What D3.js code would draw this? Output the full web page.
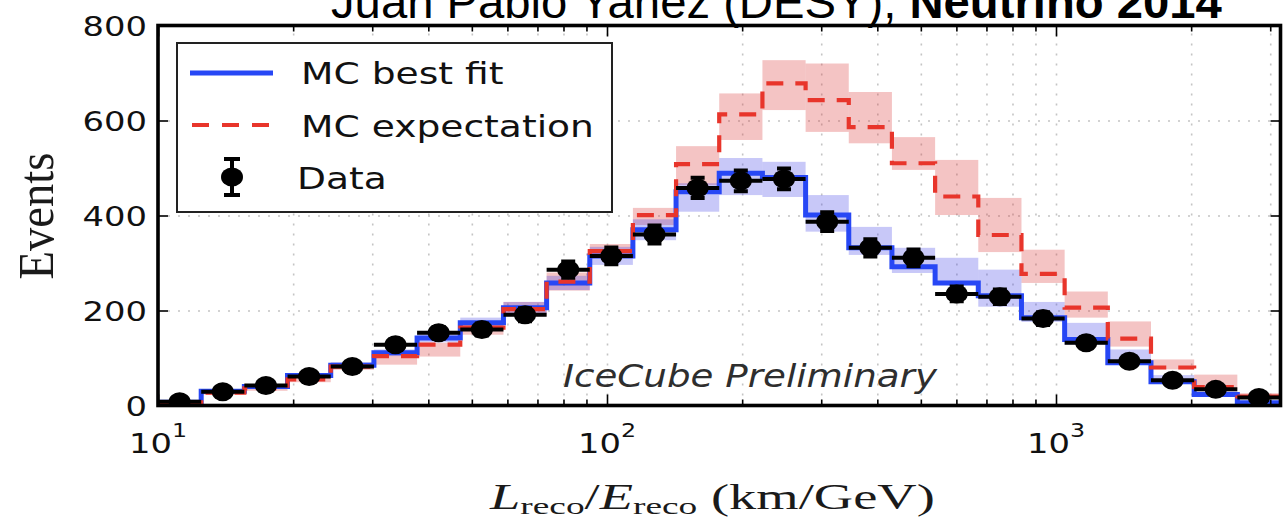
<!DOCTYPE html>
<html>
<head>
<meta charset="utf-8">
<script src="https://cdn.jsdelivr.net/npm/d3@7"></script>
<style>
  body { margin: 0; background: #fff; }
  svg { display: block; }
</style>
</head>
<body>
<svg id="chart" width="1283" height="522"></svg>
<script>
// ---- Histogram data: 26 log-spaced bins in L/E (km/GeV) ----
const binEdges = [10, 12.48, 15.57, 19.43, 24.25, 30.26, 37.76, 47.12, 58.80, 73.37,
  91.55, 114.2, 142.5, 177.8, 221.9, 276.9, 345.5, 431.1, 538.0, 671.3,
  837.7, 1045.3, 1304.3, 1627.6, 2031.0, 2534.4, 3162.3];

const dataCounts = [8, 29, 42, 61, 82, 128, 153, 160, 191, 286,
  315, 360, 458, 473, 477, 387, 332, 311, 235, 229,
  183, 132, 93, 53, 34, 17];

const bestFit = [7, 30, 40, 63, 85, 111, 142, 174, 206, 258,
  315, 370, 450, 489, 480, 401, 332, 292, 258, 231,
  185, 139, 90, 50, 23, 6];
const bestFitLo = [5, 27, 37, 58, 79, 104, 133, 163, 194, 243,
  296, 348, 408, 443, 439, 366, 317, 279, 254, 208,
  176, 128, 86, 46, 20, 4];
const bestFitHi = [9, 33, 44, 68, 91, 118, 151, 185, 218, 273,
  334, 392, 468, 521, 513, 443, 376, 332, 311, 286,
  218, 174, 118, 64, 30, 9];

const expectation = [5, 27, 36, 55, 82, 104, 128, 164, 203, 261,
  325, 401, 508, 613, 678, 643, 586, 510, 440, 359,
  277, 206, 141, 80, 39, 19];
const expectationLo = [3, 23, 31, 49, 75, 86, 103, 149, 188, 242,
  310, 380, 464, 559, 622, 576, 552, 496, 401, 323,
  258, 185, 124, 76, 34, 14];
const expectationHi = [8, 31, 41, 61, 90, 111, 132, 176, 218, 280,
  340, 416, 546, 657, 727, 720, 660, 565, 517, 437,
  328, 240, 177, 97, 65, 26];

// ---- Axis ticks and labels ----
const yTicks = [0, 200, 400, 600, 800];
const yGridTicks = [200, 400, 600];
const xMajorTicks = [10, 100, 1000];
const xTickExponents = ["1", "2", "3"];
const xMinorTicks = [20, 30, 40, 50, 60, 70, 80, 90, 200, 300, 400, 500, 600, 700, 800, 900, 2000, 3000];

const legendLabels = ["MC best fit", "MC expectation", "Data"];
const titleRegular = "Juan Pablo Yañez (DESY), ";
const titleBold = "Neutrino 2014";
const watermark = "IceCube Preliminary";
const yAxisTitle = "Events";

// ---- Colours ----
const blueLine = "#2747f5";
const redLine = "#e8352b";
const blueBand = "#4848e8";
const redBand = "#da3a3a";

const svg = d3.select("#chart");
svg.append("rect").attr("width", 1283).attr("height", 522).attr("fill", "#fff");

const plot = { left: 158, right: 1280.5, top: 25.5, bottom: 405.5 };
const x = d3.scaleLog().domain([binEdges[0], binEdges[binEdges.length - 1]]).range([plot.left, plot.right]);
const y = d3.scaleLinear().domain([0, 800]).range([plot.bottom, plot.top]);
const plotH = plot.bottom - plot.top;
const plotW = plot.right - plot.left;

svg.append("defs").append("clipPath").attr("id", "plotclip")
  .append("rect").attr("x", plot.left).attr("y", plot.top).attr("width", plotW).attr("height", plotH);

// ---- Dotted grid ----
const grid = svg.append("g");
const gx = grid.append("g").attr("transform", `translate(0,${plot.bottom})`)
  .call(d3.axisBottom(x).tickValues(xMajorTicks.concat(xMinorTicks)).tickSize(-plotH).tickFormat(""));
const gy = grid.append("g").attr("transform", `translate(${plot.left},0)`)
  .call(d3.axisLeft(y).tickValues(yGridTicks).tickSize(-plotW).tickFormat(""));
[gx, gy].forEach(g => {
  g.select(".domain").remove();
  g.selectAll("line").attr("stroke", "#c4c4c4").attr("stroke-width", 1.6).attr("stroke-dasharray", "2,8");
});

const content = svg.append("g").attr("clip-path", "url(#plotclip)");
const bins = d3.range(dataCounts.length);

// ---- Systematic bands ----
content.append("g").selectAll("rect").data(bins).join("rect")
  .attr("x", i => x(binEdges[i])).attr("width", i => x(binEdges[i + 1]) - x(binEdges[i]))
  .attr("y", i => y(expectationHi[i])).attr("height", i => y(expectationLo[i]) - y(expectationHi[i]))
  .attr("fill", redBand).attr("fill-opacity", 0.3);
content.append("g").selectAll("rect").data(bins).join("rect")
  .attr("x", i => x(binEdges[i])).attr("width", i => x(binEdges[i + 1]) - x(binEdges[i]))
  .attr("y", i => y(bestFitHi[i])).attr("height", i => y(bestFitLo[i]) - y(bestFitHi[i]))
  .attr("fill", blueBand).attr("fill-opacity", 0.3);

// ---- Step histograms ----
function stepPoints(values) {
  const pts = values.map((v, i) => [binEdges[i], v]);
  pts.push([binEdges[values.length], values[values.length - 1]]);
  return pts;
}
const stepLine = d3.line().x(d => x(d[0])).y(d => y(d[1])).curve(d3.curveStepAfter);

content.append("path").attr("d", stepLine(stepPoints(bestFit)))
  .attr("fill", "none").attr("stroke", blueLine).attr("stroke-width", 5);
content.append("path").attr("d", stepLine(stepPoints(expectation)))
  .attr("fill", "none").attr("stroke", redLine).attr("stroke-width", 4.2)
  .attr("stroke-dasharray", "17,12");

// ---- Data points with error bars ----
const pts = content.append("g");
const centre = i => Math.sqrt(binEdges[i] * binEdges[i + 1]);
pts.selectAll("line.xerr").data(bins).join("line").attr("class", "xerr")
  .attr("x1", i => x(binEdges[i])).attr("x2", i => x(binEdges[i + 1]))
  .attr("y1", i => y(dataCounts[i])).attr("y2", i => y(dataCounts[i]))
  .attr("stroke", "#000").attr("stroke-width", 4);
pts.selectAll("line.yerr").data(bins).join("line").attr("class", "yerr")
  .attr("x1", i => x(centre(i))).attr("x2", i => x(centre(i)))
  .attr("y1", i => y(dataCounts[i] + Math.sqrt(dataCounts[i])))
  .attr("y2", i => y(dataCounts[i] - Math.sqrt(dataCounts[i])))
  .attr("stroke", "#000").attr("stroke-width", 4);
[1, -1].forEach(s => {
  pts.append("g").selectAll("line").data(bins).join("line")
    .attr("x1", i => x(centre(i)) - 7).attr("x2", i => x(centre(i)) + 7)
    .attr("y1", i => y(dataCounts[i] + s * Math.sqrt(dataCounts[i])))
    .attr("y2", i => y(dataCounts[i] + s * Math.sqrt(dataCounts[i])))
    .attr("stroke", "#000").attr("stroke-width", 4);
});
pts.selectAll("ellipse").data(bins).join("ellipse")
  .attr("cx", i => x(centre(i))).attr("cy", i => y(dataCounts[i]))
  .attr("rx", 11).attr("ry", 9.5).attr("fill", "#000");

// ---- Frame and ticks ----
const axes = svg.append("g");
function styleTicks(g) {
  g.select(".domain").remove();
  g.selectAll("line").attr("stroke", "#000").attr("stroke-width", 1.6);
}
axes.append("g").attr("transform", `translate(0,${plot.bottom})`)
  .call(d3.axisBottom(x).tickValues(xMajorTicks).tickSize(-11).tickFormat("")).call(styleTicks);
axes.append("g").attr("transform", `translate(0,${plot.bottom})`)
  .call(d3.axisBottom(x).tickValues(xMinorTicks).tickSize(-6).tickFormat("")).call(styleTicks);
axes.append("g").attr("transform", `translate(0,${plot.top})`)
  .call(d3.axisTop(x).tickValues(xMajorTicks).tickSize(-11).tickFormat("")).call(styleTicks);
axes.append("g").attr("transform", `translate(0,${plot.top})`)
  .call(d3.axisTop(x).tickValues(xMinorTicks).tickSize(-6).tickFormat("")).call(styleTicks);
axes.append("g").attr("transform", `translate(${plot.left},0)`)
  .call(d3.axisLeft(y).tickValues(yTicks).tickSize(-10).tickFormat("")).call(styleTicks);
axes.append("g").attr("transform", `translate(${plot.right},0)`)
  .call(d3.axisRight(y).tickValues(yTicks).tickSize(-10).tickFormat("")).call(styleTicks);

axes.append("rect").attr("x", plot.left).attr("y", plot.top).attr("width", plotW).attr("height", plotH)
  .attr("fill", "none").attr("stroke", "#000").attr("stroke-width", 3.6);

// ---- Text helper: horizontally stretched text, optionally fitted to a width ----
function addText(parent, opt) {
  const g = parent.append("g");
  const t = g.append("text")
    .attr("text-anchor", opt.anchor || "start")
    .attr("font-family", opt.family || "DejaVu Sans")
    .attr("font-size", opt.size)
    .attr("fill", opt.fill || "#111");
  if (opt.style) t.attr("font-style", opt.style);
  let shift = 0;
  opt.parts.forEach(p => {
    const ts = t.append("tspan").text(p.text);
    if (p.size) ts.attr("font-size", p.size);
    if (p.style) ts.attr("font-style", p.style);
    if (p.weight) ts.attr("font-weight", p.weight);
    const target = p.shift || 0;
    if (target !== shift) { ts.attr("dy", target - shift); shift = target; }
  });
  let sx = opt.sx || 1;
  if (opt.fitWidth) sx = opt.fitWidth / t.node().getComputedTextLength();
  const pre = opt.preScale ? ` scale(${opt.preScale},1)` : "";
  const rot = opt.rotate ? ` rotate(${opt.rotate})` : "";
  g.attr("transform", `translate(${opt.x},${opt.y})${pre}${rot} scale(${sx},1)`);
  return sx;
}

const labels = svg.append("g");

// y tick labels
yTicks.forEach(v => addText(labels, {
  x: 147, y: y(v) + 10, anchor: "end", size: 27, sx: 1.25, parts: [{ text: String(v) }]
}));

// x tick labels (powers of ten)
xMajorTicks.forEach((v, i) => addText(labels, {
  x: x(v), y: 453, anchor: "middle", size: 27, sx: 1.25,
  parts: [{ text: "10" }, { text: xTickExponents[i], size: 19, shift: -16 }]
}));

// axis titles
addText(labels, {
  x: 490, y: 509, size: 35, family: "Liberation Serif", fitWidth: 445, fill: "#1a1a1a",
  parts: [
    { text: "L", style: "italic" }, { text: "reco", size: 24, shift: 5 },
    { text: "/" }, { text: "E", style: "italic" }, { text: "reco", size: 24, shift: 5 },
    { text: " (km/GeV)" }
  ]
});
addText(labels, {
  x: 53, y: 216, anchor: "middle", size: 40, family: "Liberation Serif", fill: "#1a1a1a",
  preScale: 1.25, rotate: -90, fitWidth: 127, parts: [{ text: yAxisTitle }]
});

// watermark
addText(labels, {
  x: 563, y: 387, size: 32, style: "italic", fill: "#2e2e2e", fitWidth: 374,
  parts: [{ text: watermark }]
});

// title (partly above the page edge)
addText(labels, {
  x: 331, y: 18, size: 47, family: "Liberation Sans", fill: "#000", fitWidth: 891,
  parts: [{ text: titleRegular }, { text: titleBold, weight: "bold" }]
});

// ---- Legend ----
const legend = svg.append("g");
legend.append("rect").attr("x", 177).attr("y", 43).attr("width", 435).attr("height", 169)
  .attr("fill", "#fff").attr("stroke", "#222").attr("stroke-width", 2);
legend.append("line").attr("x1", 190).attr("x2", 273).attr("y1", 73).attr("y2", 73)
  .attr("stroke", blueLine).attr("stroke-width", 5);
legend.append("line").attr("x1", 192).attr("x2", 272).attr("y1", 125).attr("y2", 125)
  .attr("stroke", redLine).attr("stroke-width", 4.2).attr("stroke-dasharray", "17,13");
legend.append("line").attr("x1", 232).attr("x2", 232).attr("y1", 159).attr("y2", 195)
  .attr("stroke", "#000").attr("stroke-width", 4);
[159, 195].forEach(cy => legend.append("line").attr("x1", 224).attr("x2", 240)
  .attr("y1", cy).attr("y2", cy).attr("stroke", "#000").attr("stroke-width", 4));
legend.append("ellipse").attr("cx", 232).attr("cy", 177).attr("rx", 11).attr("ry", 9.5).attr("fill", "#000");

const legendSx = addText(legend, { x: 301, y: 137, size: 30, fitWidth: 293, parts: [{ text: legendLabels[1] }] });
addText(legend, { x: 301, y: 84, size: 30, sx: legendSx, parts: [{ text: legendLabels[0] }] });
addText(legend, { x: 297, y: 189, size: 30, sx: legendSx, parts: [{ text: legendLabels[2] }] });
</script>
</body>
</html>
